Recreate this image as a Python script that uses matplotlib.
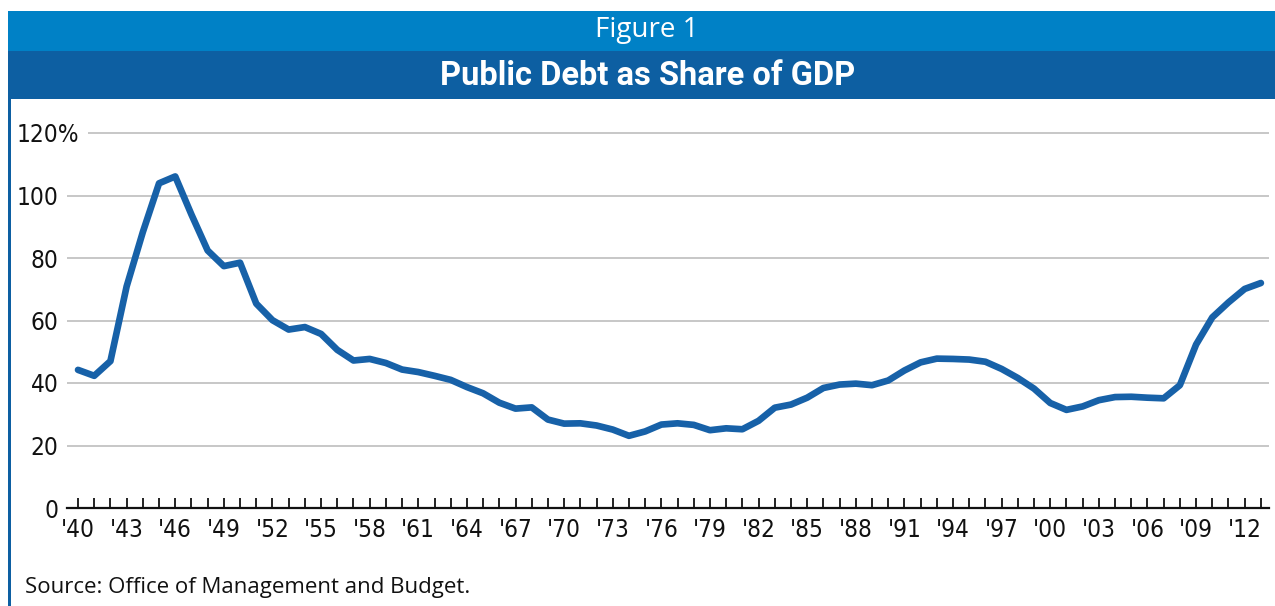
import numpy as np
import matplotlib
matplotlib.use("Agg")
import matplotlib.pyplot as plt
import matplotlib.transforms as mtransforms
from matplotlib.patches import Rectangle

# Debt held by the public, % of GDP (fiscal years 1940-2013)
years = list(range(1940, 2014))
debt_share = [
    44.2, 42.3, 47.0, 70.9, 88.3, 103.9, 106.1, 93.9, 82.4, 77.4,
    78.5, 65.4, 60.1, 57.1, 57.9, 55.7, 50.6, 47.2, 47.7, 46.4,
    44.3, 43.5, 42.3, 41.0, 38.7, 36.7, 33.7, 31.8, 32.2, 28.3,
    27.0, 27.1, 26.4, 25.1, 23.1, 24.5, 26.7, 27.1, 26.6, 24.9,
    25.5, 25.2, 27.9, 32.1, 33.1, 35.3, 38.4, 39.5, 39.8, 39.3,
    40.8, 44.0, 46.6, 47.8, 47.7, 47.5, 46.8, 44.5, 41.6, 38.2,
    33.6, 31.4, 32.5, 34.5, 35.5, 35.6, 35.3, 35.1, 39.3, 52.3,
    61.0, 65.8, 70.1, 72.0,
]
y_ticks = [0, 20, 40, 60, 80, 100, 120]
y_labels = ["0", "20", "40", "60", "80", "100", "120%"]
x_label_years = list(range(1940, 2013, 3))
x_labels = ["'%02d" % (y % 100) for y in x_label_years]

LIGHT_BLUE = "#0081c6"
DARK_BLUE = "#0d5fa2"
LINE_BLUE = "#1761a8"

W, H = 1275, 606
fig = plt.figure(figsize=(W / 100, H / 100), dpi=100)
fig.patch.set_facecolor("white")

# header bands and left frame line
fig.patches.append(Rectangle((8 / W, 1 - 51 / H), 1, 40 / H, transform=fig.transFigure,
                             facecolor=LIGHT_BLUE, edgecolor="none"))
fig.patches.append(Rectangle((8 / W, 1 - 99 / H), 1, 48 / H, transform=fig.transFigure,
                             facecolor=DARK_BLUE, edgecolor="none"))
fig.patches.append(Rectangle((8 / W, 0), 3 / W, 1 - 99 / H, transform=fig.transFigure,
                             facecolor=DARK_BLUE, edgecolor="none"))

fig.text(647 / W, 1 - 30 / H, "Figure 1", color="white", fontsize=20,
         family="Open Sans", ha="center", va="center")
fig.text(648 / W, 1 - 76 / H, "Public Debt as Share of GDP", color="white", fontsize=23.5,
         family="Roboto", weight="bold", ha="center", va="center")
fig.text(25 / W, 1 - 588 / H, "Source: Office of Management and Budget.", color="#111111",
         fontsize=16, family="Open Sans", ha="left", va="center")

ax = fig.add_axes([67 / W, 98 / H, 1202 / W, 375 / H])
x0, x1 = 1939.32, 2013.5
ax.set_xlim(x0, x1)
ax.set_ylim(0, 120)

# horizontal gridlines (top one starts after the "120%" label)
for yv in y_ticks[1:]:
    start = x0 + 1.3 if yv == 120 else x0
    ax.hlines(yv, start, x1, color="#bdbdbd", linewidth=1.2, zorder=1, clip_on=False)

ax.plot(years, debt_share, color=LINE_BLUE, linewidth=4.8, solid_joinstyle="round",
        solid_capstyle="round", zorder=3)

for s in ["top", "right", "left"]:
    ax.spines[s].set_visible(False)
ax.spines["bottom"].set_linewidth(1.6)
ax.spines["bottom"].set_color("#111111")

tick_font = dict(family="DejaVu Sans", stretch="condensed", size=17.5, color="#111111")

ax.set_xticks(years, minor=True)
ax.set_xticks(x_label_years)
ax.set_xticklabels(x_labels, **tick_font)
ax.tick_params(axis="x", which="both", direction="in", length=7, width=1.3,
               color="#111111", pad=7)

ax.set_yticks(y_ticks)
ax.set_yticklabels(y_labels, **tick_font)
ax.tick_params(axis="y", length=0, pad=6)

# let the % sign of the top label hang past the number column
top_label = ax.get_yticklabels()[-1]
top_label.set_transform(top_label.get_transform() +
                        mtransforms.ScaledTranslation(0.21, 0, fig.dpi_scale_trans))

fig.savefig("out.png", dpi=100, facecolor="white")
